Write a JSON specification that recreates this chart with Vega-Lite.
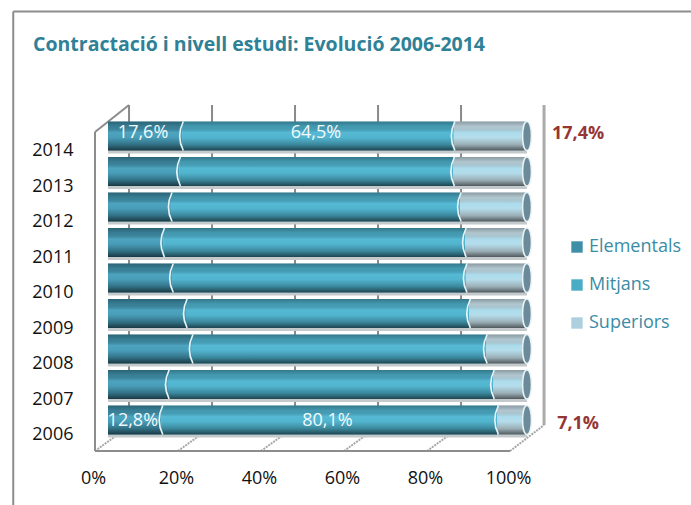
{
"$schema":"https://vega.github.io/schema/vega-lite/v6.json",
"width":450,"height":346,
"autosize":"none",
"padding":{"left":95,"top":105,"right":146,"bottom":54},
"background":"white",
"config":{"view":{"stroke":null},"font":"Open Sans"},
"title":{"text":"Contractació i nivell estudi: Evolució  2006-2014","anchor":"start","frame":"group","font":"Open Sans","fontSize":19.5,"fontWeight":"bold","color":"#2E8196","dx":-62,"offset":-45},
"datasets":{
"bars":[
{"year":"2014","series":"Elementals","value":17.6,"label":"17,6%"},
{"year":"2014","series":"Mitjans","value":64.5,"label":"64,5%"},
{"year":"2014","series":"Superiors","value":17.4,"outer":"17,4%"},
{"year":"2013","series":"Elementals","value":17.0},
{"year":"2013","series":"Mitjans","value":65.4},
{"year":"2013","series":"Superiors","value":17.6},
{"year":"2012","series":"Elementals","value":15.0},
{"year":"2012","series":"Mitjans","value":69.0},
{"year":"2012","series":"Superiors","value":16.0},
{"year":"2011","series":"Elementals","value":13.2},
{"year":"2011","series":"Mitjans","value":72.0},
{"year":"2011","series":"Superiors","value":14.8},
{"year":"2010","series":"Elementals","value":15.3},
{"year":"2010","series":"Mitjans","value":70.1},
{"year":"2010","series":"Superiors","value":14.6},
{"year":"2009","series":"Elementals","value":18.6},
{"year":"2009","series":"Mitjans","value":67.6},
{"year":"2009","series":"Superiors","value":13.8},
{"year":"2008","series":"Elementals","value":20.0},
{"year":"2008","series":"Mitjans","value":70.2},
{"year":"2008","series":"Superiors","value":9.8},
{"year":"2007","series":"Elementals","value":14.3},
{"year":"2007","series":"Mitjans","value":77.6},
{"year":"2007","series":"Superiors","value":8.1},
{"year":"2006","series":"Elementals","value":12.8,"label":"12,8%"},
{"year":"2006","series":"Mitjans","value":80.1,"label":"80,1%"},
{"year":"2006","series":"Superiors","value":7.1,"outer":"7,1%"}
],
"frame":[
{"kind":"wall","x":0,"y":0,"x2":100,"y2":0},
{"kind":"wall","x":0,"y":0,"x2":0,"y2":92.2},
{"kind":"wall","x":0,"y":92.2,"x2":8.2,"y2":100},
{"kind":"diag","x":0,"y":0,"x2":5.3,"y2":4.6},
{"kind":"diag","x":20,"y":0,"x2":25.3,"y2":4.6},
{"kind":"diag","x":40,"y":0,"x2":45.3,"y2":4.6},
{"kind":"diag","x":60,"y":0,"x2":65.3,"y2":4.6},
{"kind":"diag","x":80,"y":0,"x2":85.3,"y2":4.6},
{"kind":"diag","x":100,"y":0,"x2":108.2,"y2":7.5},
{"kind":"grid","x":8.2,"y":7.5,"x2":8.2,"y2":100},
{"kind":"grid","x":28.2,"y":7.5,"x2":28.2,"y2":100},
{"kind":"grid","x":48.2,"y":7.5,"x2":48.2,"y2":100},
{"kind":"grid","x":68.2,"y":7.5,"x2":68.2,"y2":100},
{"kind":"grid","x":88.2,"y":7.5,"x2":88.2,"y2":100},
{"kind":"back","x":108.2,"y":7.5,"x2":108.2,"y2":100},
{"kind":"border","x":-19.7,"y":-16,"x2":-19.7,"y2":127},
{"kind":"border","x":-19.7,"y":127,"x2":143.6,"y2":127}
]
},
"layer":[
{"data":{"name":"frame"},
 "encoding":{
  "x":{"field":"x","type":"quantitative","scale":{"domain":[0,108.43],"range":[0,450],"nice":false,"zero":false},
    "axis":{"values":[0,20,40,60,80,100],"labelExpr":"datum.value+'%'","grid":false,"domain":false,"ticks":false,"title":null,"labelFont":"Open Sans","labelFontSize":18,"labelColor":"#111111","labelPadding":18,"labelOffset":-2,"labelFlush":false}},
  "x2":{"field":"x2"},
  "y":{"field":"y","type":"quantitative","scale":{"domain":[0,100],"range":[346,0],"nice":false,"zero":false},"axis":null},
  "y2":{"field":"y2"}
 },
 "layer":[
  {"transform":[{"filter":"datum.kind=='border'"}],"mark":{"type":"rule","color":"#8C8C8C","strokeWidth":2,"clip":false}},
  {"transform":[{"filter":"datum.kind=='grid'"}],"mark":{"type":"rule","color":"#8A8A8A","strokeWidth":2}},
  {"transform":[{"filter":"datum.kind=='back'"}],"mark":{"type":"rule","color":"#ABABAB","strokeWidth":3}},
  {"transform":[{"filter":"datum.kind=='diag'"}],"mark":{"type":"rule","color":"#A6A6A6","strokeWidth":2,"strokeDash":[2,1]}},
  {"transform":[{"filter":"datum.kind=='wall'"}],"mark":{"type":"rule","color":"#8C8C8C","strokeWidth":2}}
 ]
},
{"data":{"name":"bars"},
 "encoding":{
  "y":{"field":"year","type":"ordinal","scale":{"domain":["2014","2013","2012","2011","2010","2009","2008","2007","2006"],"range":[13.25,332.75],"paddingInner":0,"paddingOuter":0},
     "axis":{"title":null,"domain":false,"ticks":false,"grid":false,"labelFont":"Open Sans","labelFontSize":18,"labelColor":"#111111","labelPadding":22,"labelOffset":15}},
  "x":{"field":"value","type":"quantitative","stack":"normalize","scale":{"domain":[0,1],"range":[13,432],"nice":false,"zero":false},"axis":null},
  "order":{"field":"series","sort":"ascending"},
  "detail":{"field":"series"}
 },
 "layer":[
  {"mark":{"type":"bar","height":29,"yOffset":3,"color":"#C4C9CC"}},
  {"mark":{"type":"bar","height":29},
   "encoding":{"color":{"field":"series","type":"nominal","scale":{"domain":["Elementals","Mitjans","Superiors"],"range":["#3F8EA8","#4BACC6","#AED0DE"]},
     "legend":{"orient":"none","legendX":473,"legendY":133,"title":null,"symbolType":"square","symbolSize":130,"symbolStrokeWidth":0,"labelFont":"Open Sans","labelFontSize":18,"labelColor":"#3A8CA5","rowPadding":20,"labelOffset":3}}}},
  {"mark":{"type":"bar","height":29,"fill":"#FFFFFF"},
   "encoding":{"opacity":{"condition":{"test":"datum.series=='Superiors'","value":0.3},"value":0}}},
  {"mark":{"type":"bar","height":29,"fill":{"x1":0,"y1":0,"x2":0,"y2":1,"gradient":"linear","stops":[
     {"offset":0,"color":"rgba(0,0,0,0.3)"},
     {"offset":0.18,"color":"rgba(0,0,0,0.1)"},
     {"offset":0.38,"color":"rgba(110,215,245,0.3)"},
     {"offset":0.55,"color":"rgba(110,215,245,0.2)"},
     {"offset":0.8,"color":"rgba(0,0,0,0.22)"},
     {"offset":1,"color":"rgba(0,0,0,0.6)"}]}}},
  {"mark":{"type":"point","shape":"M0.22,-1 Q-0.28,0 0.22,1","size":841,"filled":false,"stroke":"#E8F4F8","strokeWidth":1.6,"opacity":1,"xOffset":-2}},
  {"transform":[{"filter":"datum.series=='Superiors'"}],
   "mark":{"type":"point","shape":"M0,-1 C0.4,-1 0.4,1 0,1 C-0.4,1 -0.4,-1 0,-1 Z","size":841,"filled":true,"fill":"#6B8B9A","stroke":"#EAF3F6","strokeWidth":1.4,"opacity":1},
   "encoding":{"x":{"datum":1,"type":"quantitative"}}},
  {"mark":{"type":"text","color":"#F2FAFC","font":"Open Sans","fontSize":18,"yOffset":-3,"dx":-2},
   "encoding":{"x":{"field":"value","type":"quantitative","stack":"normalize","bandPosition":0.5},"text":{"condition":{"test":"datum.year=='2014' && isValid(datum.label)","field":"label"},"value":""}}},
  {"mark":{"type":"text","color":"#F2FAFC","font":"Open Sans","fontSize":18,"yOffset":1,"dx":-2},
   "encoding":{"x":{"field":"value","type":"quantitative","stack":"normalize","bandPosition":0.5},"text":{"condition":{"test":"datum.year=='2006' && isValid(datum.label)","field":"label"},"value":""}}},
  {"transform":[{"filter":"datum.outer=='17,4%'"}],
   "mark":{"type":"text","color":"#963634","font":"Open Sans","fontSize":18,"fontWeight":"bold","yOffset":-2},
   "encoding":{"x":{"datum":1.122,"type":"quantitative"},"text":{"field":"outer"}}},
  {"transform":[{"filter":"datum.outer=='7,1%'"}],
   "mark":{"type":"text","color":"#963634","font":"Open Sans","fontSize":18,"fontWeight":"bold","yOffset":4},
   "encoding":{"x":{"datum":1.122,"type":"quantitative"},"text":{"field":"outer"}}}
 ]
}
],
"resolve":{"scale":{"x":"independent","y":"independent","color":"independent"}}
}
